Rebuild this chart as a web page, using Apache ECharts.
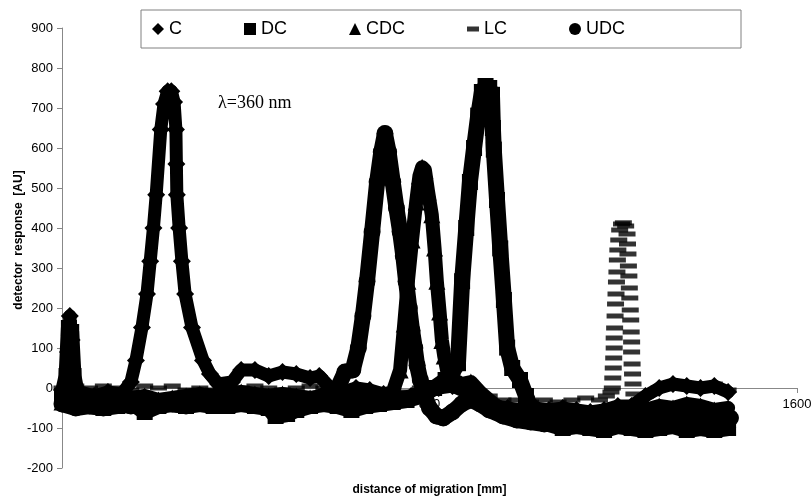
<!DOCTYPE html>
<html><head><meta charset="utf-8">
<script src="https://cdn.jsdelivr.net/npm/echarts@6/dist/echarts.min.js"></script>
<style>html,body{margin:0;padding:0;background:#fff}#c{width:812px;height:498px}</style>
</head><body><div id="c"></div>
<script>
// ---- data (x = distance of migration [mm], y = detector response [AU]) ----
const seriesNames = ['C', 'DC', 'CDC', 'LC', 'UDC'];
const xTickValues = [0, 800, 1600];
const yTickValues = [-200, -100, 0, 100, 200, 300, 400, 500, 600, 700, 800, 900];

const cX = [0,8,13,17,21,26,40,70,100,130,150,161,174,185,192,199,205,215,222,230,238,244,248,249,250,255,261,268,283,307,322,340,370,390,420,450,480,510,540,560,580,610,640,670,700,730,760,790,820,850,880,910,940,970,1000,1030,1060,1090,1120,1150,1180,1210,1240,1270,1300,1330,1360,1390,1420,1450];
const cY = [-5,5,90,180,120,10,-10,-20,-10,-15,15,69,151,235,317,400,483,646,710,742,742,715,646,560,483,400,317,235,151,69,35,10,15,45,45,30,40,35,25,30,5,-10,0,-5,-15,-25,-20,-10,0,5,-10,-30,-45,-50,-55,-50,-55,-50,-55,-60,-55,-45,-45,-20,0,10,5,0,5,-10];

const dcX = [0,10,15,20,25,35,60,90,120,150,180,210,240,270,300,330,360,390,420,450,465,490,510,540,570,600,630,660,690,720,750,780,810,835,850,862,871,880,888,897,906,914,922,930,936,938,940,947,954,962,969,980,997,1010,1030,1060,1090,1120,1150,1180,1210,1240,1270,1300,1330,1360,1390,1420,1450];
const dcY = [-20,30,150,140,30,-30,-45,-50,-45,-35,-60,-45,-40,-45,-40,-45,-45,-40,-45,-50,-70,-65,-55,-45,-40,-45,-55,-45,-40,-35,-30,-20,0,20,40,62,267,400,515,600,681,740,755,750,733,650,596,470,349,220,101,50,20,-20,-70,-90,-100,-95,-100,-105,-95,-100,-105,-100,-95,-105,-100,-105,-100];

const cdcX = [0,30,60,90,120,150,180,210,240,270,300,330,360,390,420,450,480,510,540,570,600,630,660,690,720,736,745,753,762,771,778,784,790,797,805,811,816,822,827,832,838,850,870,890,910,940,970,1000,1030,1060,1090,1120,1150,1180,1210,1240,1270,1300,1330,1360,1390,1420,1450];
const cdcY = [-35,-40,-30,-35,-30,-25,-20,-30,-25,-20,-15,-20,-15,-10,-15,-20,-15,-20,-25,-20,-15,-20,-25,-20,-10,45,160,267,370,465,530,552,545,490,433,350,267,190,119,80,45,20,10,15,-10,-40,-60,-70,-75,-70,-75,-85,-90,-85,-80,-70,-55,-45,-50,-40,-45,-55,-50];

const lcX = [0,15,30,60,90,120,150,180,210,240,270,300,330,360,390,420,450,480,510,540,570,600,630,660,690,720,750,780,810,840,870,900,930,960,990,1020,1050,1080,1110,1140,1170,1185,1195,1198,1199,1200,1201,1202,1202,1203,1204,1205,1206,1207,1208,1209,1210,1212,1214,1218,1222,1227,1230,1231,1232,1233,1234,1235,1236,1237,1238,1239,1240,1240,1241,1242,1243,1245,1270,1300,1330,1360,1390,1420,1450];
const lcY = [0,15,5,0,5,0,-5,5,0,5,-5,0,-5,5,0,5,0,-5,0,5,0,-5,-10,-5,-10,-5,-10,0,10,20,5,-10,-20,-30,-30,-35,-30,-35,-30,-25,-30,-20,-10,0,25,50,75,100,125,150,180,210,235,265,290,320,345,370,395,410,413,405,385,360,335,305,280,250,225,195,170,140,115,90,60,35,10,-15,-20,0,10,5,0,10,-5];

const udcX = [0,30,60,90,120,150,180,210,240,270,300,330,360,390,420,450,480,510,540,570,600,616,633,645,655,664,675,686,695,703,711,720,728,736,743,749,756,762,768,773,780,790,800,815,830,850,870,890,910,930,960,990,1020,1050,1080,1110,1140,1170,1200,1230,1260,1290,1320,1350,1380,1410,1440,1455];
const udcY = [-40,-50,-45,-50,-40,-45,-40,-35,-40,-45,-35,-40,-30,-35,-30,-35,-40,-35,-30,-20,0,40,45,100,180,267,390,515,590,636,590,515,450,391,330,267,200,144,100,57,20,-20,-50,-70,-75,-60,-40,-30,-40,-55,-70,-80,-85,-90,-85,-80,-85,-75,-80,-75,-80,-75,-70,-80,-75,-70,-80,-75];

const annotationText = 'λ=360 nm';
const xTitle = 'distance of migration [mm]';
const yTitle = 'detector  response  [AU]';

// ---- chart ----
function pts(xs, ys) { return xs.map((x, i) => [x, ys[i]]); }
const FONT = '"Liberation Sans", Arial, sans-serif';
const GRID_TOP = 28, GRID_BOTTOM = 30, H = 498;
// distance (px) from grid bottom up to the y = 0 line, so the x axis sits on zero
const zeroOffset = (H - GRID_TOP - GRID_BOTTOM) * (0 - yTickValues[0]) / (yTickValues[yTickValues.length - 1] - yTickValues[0]);
const chart = echarts.init(document.getElementById('c'), null, { renderer: 'canvas' });

function lineSeries(name, xs, ys, symbol, size, width) {
  return {
    name: name, type: 'line', data: pts(xs, ys),
    symbol: symbol, symbolSize: size, showSymbol: true, showAllSymbol: true,
    itemStyle: { color: '#000', borderWidth: 0 },
    lineStyle: { color: '#000', width: width, cap: 'round', join: 'round' },
    emphasis: { disabled: true }, z: 3
  };
}

const option = {
  animation: false,
  backgroundColor: '#fff',
  grid: { left: 62, right: 15, top: GRID_TOP, bottom: GRID_BOTTOM, outerBoundsMode: 'none' },
  legend: {
    left: 141, top: 10,
    padding: [10, 116, 10, 11],
    borderColor: '#808080', borderWidth: 1, backgroundColor: '#fff',
    itemWidth: 12, itemHeight: 12, itemGap: 62,
    selectedMode: false,
    textStyle: { color: '#000', fontSize: 18, fontFamily: FONT },
    data: [
      { name: 'C', icon: 'diamond' },
      { name: 'DC', icon: 'rect' },
      { name: 'CDC', icon: 'triangle' },
      { name: 'LC', icon: 'path://M0,0h12v5h-12z' },
      { name: 'UDC', icon: 'circle' }
    ]
  },
  xAxis: {
    type: 'value', position: 'bottom', offset: -zeroOffset,
    min: xTickValues[0], max: xTickValues[2], interval: xTickValues[1] - xTickValues[0],
    axisLine: { show: true, onZero: false, lineStyle: { color: '#888', width: 1 } },
    axisTick: { show: true, length: 5, lineStyle: { color: '#888' } },
    axisLabel: { color: '#000', fontSize: 13, fontFamily: FONT, margin: 10, formatter: v => String(v) },
    splitLine: { show: false },
    name: xTitle, nameLocation: 'middle', nameGap: 96,
    nameTextStyle: { color: '#000', fontSize: 12, fontWeight: 'bold', fontFamily: FONT }
  },
  yAxis: {
    type: 'value', min: yTickValues[0], max: yTickValues[yTickValues.length - 1], interval: 100,
    axisLine: { show: true, lineStyle: { color: '#888', width: 1 } },
    axisTick: { show: true, length: 5, lineStyle: { color: '#888' } },
    axisLabel: { color: '#000', fontSize: 13, fontFamily: FONT, margin: 9, formatter: v => String(v) },
    splitLine: { show: false }
  },
  graphic: [
    { type: 'text', x: 19, y: 240, rotation: Math.PI / 2, z: 10,
      style: { text: yTitle, fill: '#000', font: 'bold 12px "Liberation Sans", Arial, sans-serif',
               textAlign: 'center', textVerticalAlign: 'middle', align: 'center', verticalAlign: 'middle' } },
    { type: 'text', x: 218, y: 103, z: 10,
      style: { text: annotationText, fill: '#000', font: '18px "Liberation Serif", "Times New Roman", serif',
               textAlign: 'left', textVerticalAlign: 'middle', align: 'left', verticalAlign: 'middle' } }
  ],
  series: [
    lineSeries('C', cX, cY, 'diamond', 18, 13),
    lineSeries('DC', dcX, dcY, 'rect', 16, 16),
    lineSeries('CDC', cdcX, cdcY, 'triangle', 17, 14),
    {
      name: 'LC', type: 'scatter', data: pts(lcX, lcY),
      symbol: 'rect', symbolSize: [17, 5],
      itemStyle: { color: '#000' }, emphasis: { disabled: true }, z: 3
    },
    lineSeries('UDC', udcX, udcY, 'circle', 17, 16)
  ]
};
chart.setOption(option);
</script>
</body></html>
